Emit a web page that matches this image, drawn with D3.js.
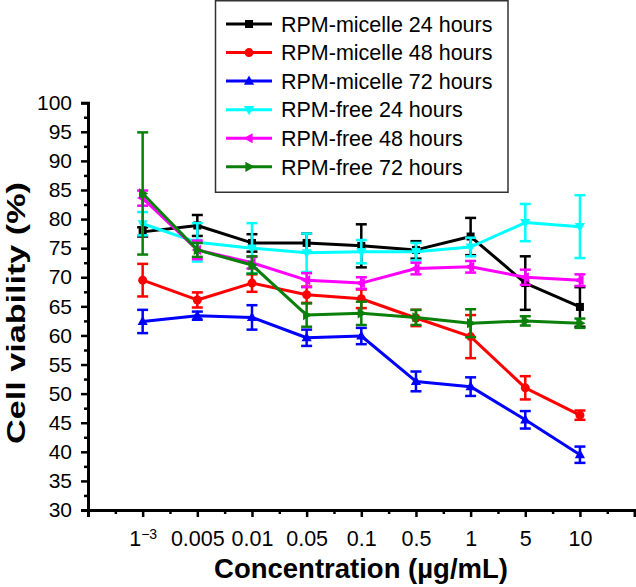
<!DOCTYPE html>
<html>
<head>
<meta charset="utf-8">
<script src="https://cdn.jsdelivr.net/npm/d3@7"></script>
<style>
  html, body { margin: 0; padding: 0; background: #fff; }
  svg { display: block; font-family: Arial, "Liberation Sans", Helvetica, sans-serif; }
</style>
</head>
<body>
<svg id="chart" width="636" height="587"></svg>
<script>
// ---------- data ----------
const categories = ["1e-3", "0.005", "0.01", "0.05", "0.1", "0.5", "1", "5", "10"];
const xTickLabels = ["1", "0.005", "0.01", "0.05", "0.1", "0.5", "1", "5", "10"];
const yTickValues = [30, 35, 40, 45, 50, 55, 60, 65, 70, 75, 80, 85, 90, 95, 100];

const seriesNames = ["RPM-micelle 24 hours", "RPM-micelle 48 hours", "RPM-micelle 72 hours",
                     "RPM-free 24 hours", "RPM-free 48 hours", "RPM-free 72 hours"];
const seriesColors = ["#000000", "#ff0000", "#0000ff", "#00ffff", "#ff00ff", "#0a800a"];
const seriesMarkers = ["square", "circle", "triUp", "triDown", "triLeft", "triRight"];

const micelle24 = [77.8, 78.9, 75.9, 75.9, 75.4, 74.7, 77.0, 69.0, 64.9];
const micelle24Err = [0.8, 1.8, 1.5, 1.6, 3.7, 1.5, 3.2, 4.6, 3.4];
const micelle48 = [69.5, 66.1, 69.0, 67.0, 66.3, 63.0, 59.8, 51.0, 46.3];
const micelle48Err = [2.8, 1.3, 1.5, 1.4, 1.6, 1.4, 3.7, 2.0, 0.8];
const micelle72 = [62.4, 63.4, 63.1, 59.6, 59.9, 52.1, 51.2, 45.5, 39.5];
const micelle72Err = [2.0, 0.7, 2.1, 1.4, 1.4, 1.7, 1.6, 1.5, 1.4];
const free24 = [79.2, 76.0, 75.0, 74.2, 74.4, 74.4, 75.2, 79.4, 78.7];
const free24Err = [2.0, 3.3, 4.3, 3.3, 2.0, 1.5, 1.6, 3.2, 5.4];
const free48 = [83.6, 74.7, 72.5, 69.5, 69.0, 71.5, 71.8, 70.0, 69.5];
const free48Err = [1.3, 1.6, 1.0, 1.2, 1.0, 1.0, 1.0, 1.3, 1.0];
const free72 = [84.4, 74.7, 72.1, 63.5, 63.8, 63.1, 62.1, 62.5, 62.1];
const free72Err = [10.5, 1.2, 1.5, 2.0, 2.0, 1.3, 2.4, 0.8, 0.8];

const seriesValues = [micelle24, micelle48, micelle72, free24, free48, free72];
const seriesErrors = [micelle24Err, micelle48Err, micelle72Err, free24Err, free48Err, free72Err];

// ---------- layout ----------
const svg = d3.select("#chart");
const x = d3.scaleLinear().domain([-1, 9]).range([88, 634.6]);
const y = d3.scaleLinear().domain([30, 100]).range([510, 102.7]);

// ---------- axes ----------
const yAxisG = svg.append("g").attr("transform", `translate(${x(-1)},0)`);
yAxisG.call(d3.axisLeft(y).tickValues(yTickValues).tickSize(7).tickPadding(9).tickFormat(d3.format("d")));
const yMinor = svg.append("g").attr("transform", `translate(${x(-1)},0)`);
yMinor.call(d3.axisLeft(y).tickValues(d3.range(32.5, 100, 5)).tickSize(4).tickFormat(""));
yMinor.select(".domain").remove();

const xAxisG = svg.append("g").attr("transform", `translate(0,${y(30)})`);
xAxisG.call(d3.axisBottom(x).tickValues(d3.range(0, 10)).tickSize(7).tickPadding(14)
  .tickFormat(d => d < xTickLabels.length ? xTickLabels[d] : ""));
const xMinor = svg.append("g").attr("transform", `translate(0,${y(30)})`);
xMinor.call(d3.axisBottom(x).tickValues(d3.range(-0.5, 9, 1)).tickSize(4).tickFormat(""));
xMinor.select(".domain").remove();

[yAxisG, yMinor, xAxisG, xMinor].forEach(g => {
  g.selectAll(".domain").attr("stroke", "#000").attr("stroke-width", 3);
  g.selectAll(".tick line").attr("stroke", "#000").attr("stroke-width", 2.5);
  g.selectAll(".tick text").attr("fill", "#000").attr("font-size", 21)
    .attr("font-family", "Arial, 'Liberation Sans', sans-serif");
});
xAxisG.selectAll(".tick text").attr("font-size", 21.5);

// superscript for first x label: 1^-3
xAxisG.selectAll(".tick").filter(d => d === 0).select("text").each(function () {
  const t = d3.select(this);
  t.text("");
  t.append("tspan").text("1");
  t.append("tspan").attr("font-size", 14).attr("dy", "-0.55em").text("\u22123");
});

// axis titles
svg.append("text")
  .attr("x", 361).attr("y", 578)
  .attr("text-anchor", "middle")
  .attr("font-weight", "bold").attr("font-size", 27.5)
  .text("Concentration (\u00b5g/mL)");

svg.append("text")
  .attr("transform", `translate(25,${313}) rotate(-90)`)
  .attr("text-anchor", "middle")
  .attr("font-weight", "bold").attr("font-size", 25)
  .attr("textLength", 262).attr("lengthAdjust", "spacingAndGlyphs")
  .text("Cell viability (%)");

// ---------- markers ----------
function markerPath(type, cx, cy) {
  const s = 4.6;
  switch (type) {
    case "square": return `M${cx - 4},${cy - 4}h8v8h-8z`;
    case "circle": return `M${cx - 4.5},${cy}a4.5,4.5 0 1,0 9,0a4.5,4.5 0 1,0 -9,0z`;
    case "triUp": return `M${cx},${cy - s - 1}L${cx + s + 0.5},${cy + s - 1}L${cx - s - 0.5},${cy + s - 1}z`;
    case "triDown": return `M${cx},${cy + s + 1}L${cx + s + 0.5},${cy - s + 1}L${cx - s - 0.5},${cy - s + 1}z`;
    case "triLeft": return `M${cx - s - 1},${cy}L${cx + s - 1},${cy - s - 0.5}L${cx + s - 1},${cy + s + 0.5}z`;
    case "triRight": return `M${cx + s + 1},${cy}L${cx - s + 1},${cy - s - 0.5}L${cx - s + 1},${cy + s + 0.5}z`;
  }
}

// ---------- series ----------
const line = d3.line().x((d, i) => x(i)).y(d => y(d));

seriesValues.forEach((vals, si) => {
  const color = seriesColors[si];
  const errs = seriesErrors[si];
  const g = svg.append("g");
  // error bars
  vals.forEach((v, i) => {
    const cx = x(i), top = y(v + errs[i]), bot = y(v - errs[i]);
    g.append("line").attr("x1", cx).attr("x2", cx).attr("y1", top).attr("y2", bot)
      .attr("stroke", color).attr("stroke-width", 2.5);
    [top, bot].forEach(yy => g.append("line")
      .attr("x1", cx - 5.5).attr("x2", cx + 5.5).attr("y1", yy).attr("y2", yy)
      .attr("stroke", color).attr("stroke-width", 2.5));
  });
  g.append("path").datum(vals).attr("d", line)
    .attr("fill", "none").attr("stroke", color).attr("stroke-width", 3).attr("stroke-linejoin", "round");
  vals.forEach((v, i) => {
    g.append("path").attr("d", markerPath(seriesMarkers[si], x(i), y(v))).attr("fill", color);
  });
});

// ---------- legend ----------
const lg = svg.append("g");
lg.append("rect").attr("x", 215.5).attr("y", 0.75).attr("width", 292.5).attr("height", 191.5)
  .attr("fill", "#fff").attr("stroke", "#333").attr("stroke-width", 1.5);
const legendRowY = d3.scaleLinear().domain([0, 5]).range([24, 166.8]);
seriesNames.forEach((name, si) => {
  const yy = legendRowY(si);
  lg.append("line").attr("x1", 226).attr("x2", 272).attr("y1", yy).attr("y2", yy)
    .attr("stroke", seriesColors[si]).attr("stroke-width", 3);
  lg.append("path").attr("d", markerPath(seriesMarkers[si], 249, yy)).attr("fill", seriesColors[si]);
  lg.append("text").attr("x", 281).attr("y", yy).attr("dy", "0.36em")
    .attr("font-size", 21.5).attr("fill", "#000").text(name);
});
</script>
</body>
</html>
